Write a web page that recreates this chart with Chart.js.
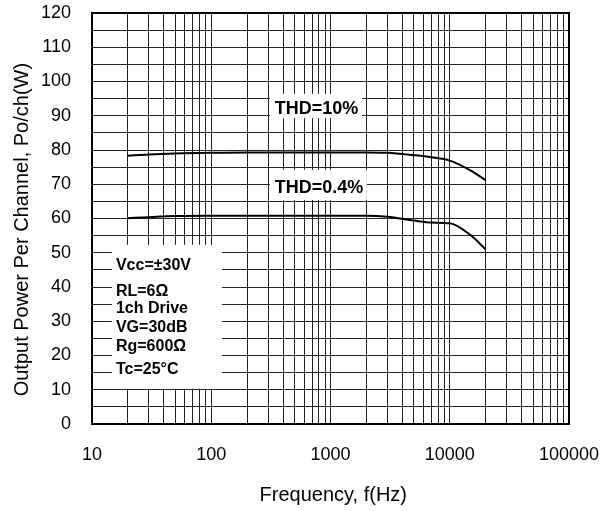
<!DOCTYPE html>
<html>
<head>
<meta charset="utf-8">
<script src="https://cdn.jsdelivr.net/npm/chart.js@4"></script>
<style>
  html, body { margin: 0; padding: 0; background: #fff; }
  #wrap { width: 612px; height: 511px; }
</style>
</head>
<body>
<div id="wrap"><canvas id="powerChart" width="612" height="511"></canvas></div>
<script>
// Output power vs frequency
const freqs = [20, 30, 50, 100, 200, 500, 1000, 2000, 3000, 5000, 7000, 10000, 15000, 20000];
const thd10 = [78.3, 78.7, 79.0, 79.2, 79.3, 79.3, 79.3, 79.3, 79.2, 78.5, 77.9, 76.9, 74.0, 71.2];
const thd04 = [60.1, 60.4, 60.7, 60.8, 60.8, 60.8, 60.8, 60.8, 60.5, 59.4, 58.8, 58.6, 55.1, 51.0];

const xDecades = [10, 100, 1000, 10000, 100000];
const xTickLabels = ['10', '100', '1000', '10000', '100000'];
const minorSteps = [1, 2, 3, 4, 5, 6, 7, 8, 9];
const yTickLabels = ['0', '10', '20', '30', '40', '50', '60', '70', '80', '90', '100', '110', '120'];

const conditions = ['Vcc=\u00b130V', 'RL=6\u03a9', '1ch Drive', 'VG=30dB', 'Rg=600\u03a9', 'Tc=25\u00b0C'];
const curveLabels = ['THD=10%', 'THD=0.4%'];

const FONT = 'Arial, "Liberation Sans", sans-serif';

// white label boxes + thick frame
const notesPlugin = {
    id: 'notes',
    beforeDatasetsDraw(chart) {
        const ctx = chart.ctx;
        const xs = chart.scales.x, ys = chart.scales.y;
        const box = (x0, x1, y0, y1) => {
            const l = xs.getPixelForValue(x0), r = xs.getPixelForValue(x1);
            const t = ys.getPixelForValue(y1), b = ys.getPixelForValue(y0);
            ctx.fillStyle = '#fff';
            ctx.fillRect(l, t, r - l, b - t);
            return { l, t };
        };
        ctx.save();
        // conditions box
        const cb = box(14.7, 123, 10.3, 52.3);
        ctx.fillStyle = '#000';
        ctx.font = 'bold 16px ' + FONT;
        ctx.textBaseline = 'middle';
        const offs = [21, 47, 64, 83, 102, 125];
        conditions.forEach((txt, i) => ctx.fillText(txt, cb.l + 4, cb.t + offs[i]));

        // curve labels
        ctx.font = 'bold 18px ' + FONT;
        const b1 = box(310, 1834, 89.3, 96.4);
        ctx.fillStyle = '#000';
        ctx.fillText(curveLabels[0], b1.l + 5, b1.t + 15);
        const b2 = box(310, 2018, 65.4, 74.2);
        ctx.fillStyle = '#000';
        ctx.fillText(curveLabels[1], b2.l + 5, b2.t + 18);

        // frame
        const a = chart.chartArea;
        ctx.strokeStyle = '#000';
        ctx.lineWidth = 2;
        ctx.strokeRect(a.left, a.top, a.right - a.left, a.bottom - a.top);
        ctx.restore();
    }
};

function createPowerChart() {
    const ctx = document.getElementById('powerChart').getContext('2d');
    new Chart(ctx, {
        type: 'line',
        data: {
            labels: freqs,
            datasets: [{
                label: curveLabels[0],
                data: freqs.map((f, i) => ({ x: f, y: thd10[i] })),
                borderColor: '#000',
                borderWidth: 2,
                pointRadius: 0,
                cubicInterpolationMode: 'monotone'
            }, {
                label: curveLabels[1],
                data: freqs.map((f, i) => ({ x: f, y: thd04[i] })),
                borderColor: '#000',
                borderWidth: 2,
                pointRadius: 0,
                cubicInterpolationMode: 'monotone'
            }]
        },
        options: {
            responsive: false,
            animation: false,
            layout: { padding: { left: 0, right: 43, top: 13, bottom: 0 } },
            plugins: {
                legend: { display: false },
                tooltip: { enabled: false }
            },
            scales: {
                x: {
                    type: 'logarithmic',
                    min: 10,
                    max: 100000,
                    afterFit: s => {
                        s.height = 87;
                        s.paddingLeft = 0;
                        s.paddingRight = 0;
                    },
                    afterBuildTicks: s => {
                        const t = [];
                        xDecades.forEach(d => minorSteps.forEach(m => {
                            if (d * m <= 100000) t.push({ value: d * m });
                        }));
                        s.ticks = t;
                    },
                    grid: { color: '#222', lineWidth: 1, drawTicks: false },
                    border: { display: false },
                    ticks: {
                        autoSkip: false,
                        maxRotation: 0,
                        padding: 20,
                        color: '#000',
                        font: { family: FONT, size: 18 },
                        callback: v => {
                            const k = xDecades.indexOf(v);
                            return k >= 0 ? xTickLabels[k] : '';
                        }
                    },
                    title: {
                        display: true,
                        text: ' Frequency, f(Hz)',
                        color: '#000',
                        font: { family: FONT, size: 20 },
                        padding: { top: 0, bottom: 4 }
                    }
                },
                y: {
                    min: 0,
                    max: 120,
                    afterFit: s => {
                        s.width = 92;
                        s.paddingTop = 0;
                        s.paddingBottom = 0;
                    },
                    grid: { color: '#222', lineWidth: 1, drawTicks: false },
                    border: { display: false },
                    ticks: {
                        stepSize: 5,
                        autoSkip: false,
                        padding: 21,
                        color: '#000',
                        font: { family: FONT, size: 18 },
                        callback: v => (v % 10 === 0 ? yTickLabels[v / 10] : '')
                    },
                    title: {
                        display: true,
                        text: 'Output Power Per Channel, Po/ch(W)    ',
                        color: '#000',
                        font: { family: FONT, size: 20 },
                        padding: { top: 10, bottom: 0 }
                    }
                }
            }
        },
        plugins: [notesPlugin]
    });
}

document.addEventListener('DOMContentLoaded', createPowerChart);
</script>
</body>
</html>
